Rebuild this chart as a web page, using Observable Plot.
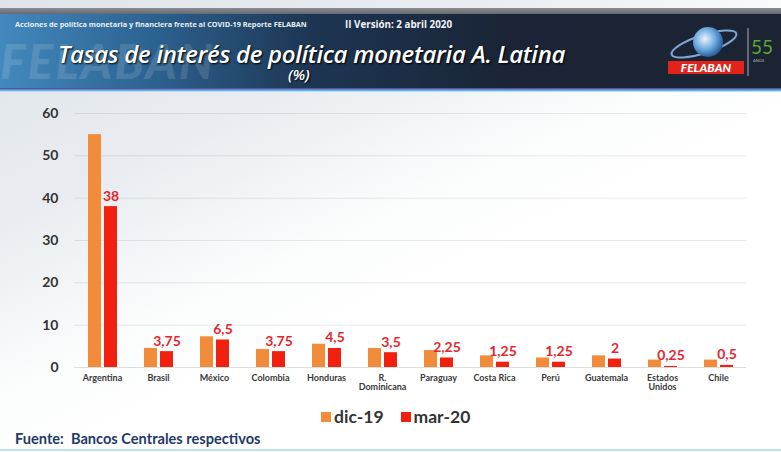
<!DOCTYPE html>
<html><head><meta charset="utf-8">
<script src="https://cdn.jsdelivr.net/npm/d3@7"></script>
<script src="https://cdn.jsdelivr.net/npm/@observablehq/plot@0.6"></script>
<style>
body{margin:0;width:781px;height:452px;overflow:hidden;background:#fff;font-family:"Lato",sans-serif;}
#page{position:relative;width:781px;height:452px;overflow:hidden;
 background:linear-gradient(155deg,#dfe4e9 0%,#e9edf1 28%,#fbfcfc 48%,#ffffff 60%);}
#topgray{position:absolute;left:0;top:8px;width:781px;height:8px;background:linear-gradient(#8a8d92,#5a5e66);}
#header{position:absolute;left:0;top:14px;width:781px;height:75px;
 background:linear-gradient(90deg,#4389bd 0%,#2e6594 18%,#1d3552 40%,#1a2436 65%,#1c2433 100%);}
#hline{position:absolute;left:0;top:88px;width:781px;height:4px;background:linear-gradient(#5a3b8a,#5fb3e6 60%,#d8eef9);}
#wm{position:absolute;left:0;top:32px;font:italic 900 48px "Lato";color:rgba(255,255,255,0.12);letter-spacing:2px;}
#small{position:absolute;left:15px;top:19px;font:bold 7.3px "Open Sans";color:#e8eef5;white-space:nowrap;}
#ver{position:absolute;left:345px;top:18px;font:bold 9.8px "Open Sans";color:#f2f4f7;white-space:nowrap;}
#title{position:absolute;left:58px;top:37px;font:italic 600 24px "Open Sans";letter-spacing:-0.3px;color:#fff;white-space:nowrap;text-shadow:1px 1px 2px #000;}
#pct{position:absolute;left:288px;top:64px;font:italic 600 15px "Open Sans";color:#fff;text-shadow:1px 1px 2px #000;}
#logo{position:absolute;left:664px;top:24px;width:114px;height:56px;}
#plotwrap{position:absolute;left:0;top:95px;}
#legend{position:absolute;left:321px;top:406px;font:bold 17.5px "Lato";color:#333;white-space:nowrap;display:flex;align-items:center;}
#legend .sw{display:inline-block;width:10px;height:10px;margin-right:3px;}
#legend .it{display:flex;align-items:center;margin-right:17px;}
#foot{position:absolute;left:15px;top:430px;font:bold 14.6px "Lato";color:#1f3a68;white-space:nowrap;}
#fline{position:absolute;left:0;top:449px;width:781px;height:2px;background:#bfe3f3;}
svg [aria-label^="y-axis"] text{font-size:14px;font-weight:bold;fill:#333;}
svg [aria-label^="fx-axis"] text{font-size:9px;fill:#3a3a3a;font-weight:bold;}
</style></head>
<body><div id="page">
<div id="topgray"></div>
<div id="header"></div>
<div id="hline"></div>
<div id="wm">FELABAN</div>
<div id="small">Acciones de política monetaria y financiera frente al COVID-19 Reporte FELABAN</div>
<div id="ver">II Versión: 2 abril 2020</div>
<div id="title">Tasas de interés de política monetaria A. Latina</div>
<div id="pct">(%)</div>
<svg id="logo" viewBox="0 0 114 56">
 <defs><radialGradient id="gl" cx="40%" cy="40%" r="60%"><stop offset="0" stop-color="#e8f4ff"/><stop offset="0.6" stop-color="#6aa6dc"/><stop offset="1" stop-color="#2a5f9e"/></radialGradient></defs>
 <ellipse cx="40" cy="20" rx="34" ry="9" fill="none" stroke="#7fa8d8" stroke-width="2" transform="rotate(-18 40 20)"/>
 <circle cx="44" cy="18" r="15" fill="url(#gl)"/>
 <rect x="4" y="37" width="76" height="13" fill="#e2231a"/>
 <text x="42" y="47.5" text-anchor="middle" font-family="Lato" font-style="italic" font-weight="900" font-size="12" fill="#fff">FELABAN</text>
 <line x1="84" y1="4" x2="84" y2="52" stroke="#aab" stroke-width="1"/>
 <text x="87" y="30" font-family="Lato" font-size="19" fill="#5aa832">55</text>
 <text x="89" y="38" font-family="Lato" font-size="4" fill="#bbb">AÑOS</text>
</svg>
<div id="plotwrap"></div>
<div id="legend"></div>
<div id="foot">Fuente:&nbsp; Bancos Centrales respectivos</div>
<div id="fline"></div>
</div>
<script>
const countries = ["Argentina","Brasil","México","Colombia","Honduras","R.\nDominicana","Paraguay","Costa Rica","Perú","Guatemala","Estados\nUnidos","Chile"];
const series = ["dic-19","mar-20"];
const dic19 = [55,4.5,7.25,4.25,5.5,4.5,4,2.75,2.25,2.75,1.75,1.75];
const mar20 = [38,3.75,6.5,3.75,4.5,3.5,2.25,1.25,1.25,2,0.25,0.5];
const mar20Labels = ["38","3,75","6,5","3,75","4,5","3,5","2,25","1,25","1,25","2","0,25","0,5"];
const yTicks = [0,10,20,30,40,50,60];
const colors = ["#f28b3a","#f2200f"];

const rows = countries.flatMap((c,i)=>[
  {country:c, series:series[0], value:dic19[i]},
  {country:c, series:series[1], value:mar20[i]}
]);
const labelRows = countries.map((c,i)=>({country:c, series:series[1], value:mar20[i], label:mar20Labels[i]}));

const chart = Plot.plot({
  width:781, height:305,
  marginLeft:68, marginRight:30, marginTop:18, marginBottom:33,
  style:{fontFamily:"Lato", background:"transparent", overflow:"visible", color:"#333"},
  fx:{domain:countries, padding:0, label:null, axis:"bottom", tickSize:0, tickPadding:7},
  x:{domain:series, axis:null, paddingInner:0.2, paddingOuter:0.8},
  y:{domain:[0,60], ticks:yTicks, grid:true, label:null, tickSize:0, tickPadding:16},
  color:{domain:series, range:colors},
  marks:[
    Plot.ruleY([0],{stroke:"#ddd"}),
    Plot.barY(rows,{fx:"country", x:"series", y:"value", fill:"series"}),
    Plot.text(labelRows,{fx:"country", x:"series", y:"value", text:"label", dy:-6, lineAnchor:"bottom",
      fill:"#e5262f", fontWeight:"bold", fontSize:14})
  ]
});
document.getElementById("plotwrap").appendChild(chart);

const lg = document.getElementById("legend");
series.forEach((s,i)=>{
  const it = document.createElement("div"); it.className="it";
  const sw = document.createElement("span"); sw.className="sw"; sw.style.background=colors[i];
  it.appendChild(sw); it.appendChild(document.createTextNode(s)); lg.appendChild(it);
});
</script>
</body></html>
